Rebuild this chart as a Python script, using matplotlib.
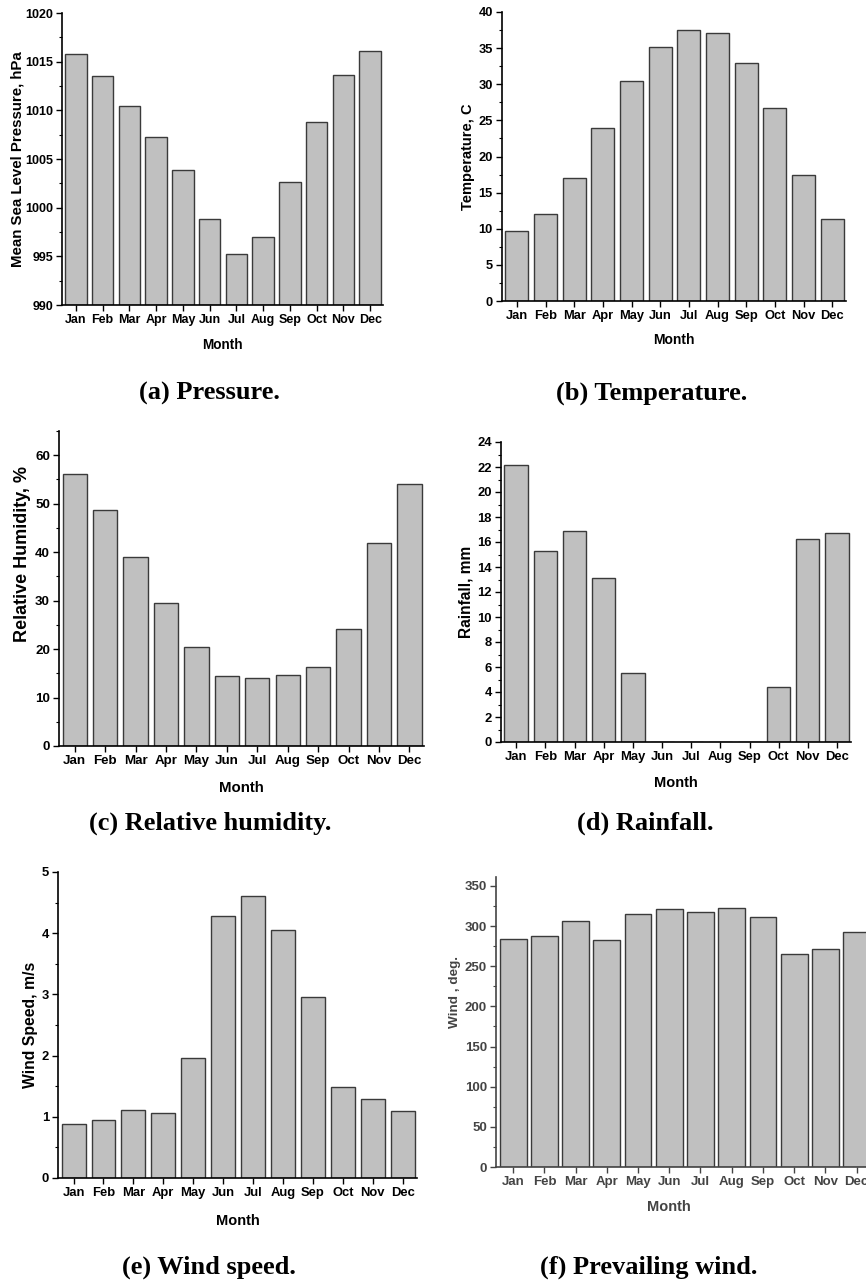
import numpy as np
import matplotlib
matplotlib.use("Agg")
import matplotlib.pyplot as plt
from matplotlib.ticker import MultipleLocator

# monthly climate data
months = ["Jan", "Feb", "Mar", "Apr", "May", "Jun", "Jul", "Aug", "Sep", "Oct", "Nov", "Dec"]
pressure = [1015.8, 1013.5, 1010.4, 1007.25, 1003.9, 998.8, 995.25, 996.95, 1002.65, 1008.8, 1013.6, 1016.1]
temperature = [9.7, 12.05, 17.05, 23.95, 30.4, 35.2, 37.55, 37.1, 33.0, 26.7, 17.5, 11.4]
humidity = [56.15, 48.65, 38.95, 29.45, 20.5, 14.5, 14.1, 14.6, 16.25, 24.15, 41.85, 54.05]
rainfall = [22.2, 15.3, 16.85, 13.15, 5.5, 0, 0, 0, 0, 4.4, 16.25, 16.75]
wind_speed = [0.875, 0.955, 1.11, 1.06, 1.96, 4.28, 4.605, 4.045, 2.965, 1.485, 1.29, 1.09]
wind_dir = [284, 288, 306, 283, 314.5, 321, 317.5, 323, 311, 265, 271.5, 292]

W, H = 866, 1280
plt.rcParams['font.family'] = ['Liberation Sans', 'DejaVu Sans']
plt.rcParams['font.weight'] = 'bold'
fig = plt.figure(figsize=(W / 100, H / 100), dpi=100)

BAR = "#c0c0c0"
EDGE = "#3a3a3a"


def panel(x0, x1, top, bottom, vals, ylim, major, minor, ylabel, ylab_x, ylab_y,
          month_y, month_x=None, base=0, tick_fs=8.5, ylab_fs=10.5, month_fs=10,
          width=0.8, col="black", xlim=(-0.52, 11.48)):
    ax = fig.add_axes([x0 / W, 1 - bottom / H, (x1 - x0) / W, (bottom - top) / H])
    x = np.arange(len(months))
    v = np.array(vals, dtype=float)
    ax.bar(x, v - base, bottom=base, width=width, color=BAR, edgecolor=EDGE, linewidth=1.0)
    ax.set_xlim(*xlim)
    ax.set_ylim(*ylim)
    ax.yaxis.set_major_locator(MultipleLocator(major))
    ax.yaxis.set_minor_locator(MultipleLocator(minor))
    ax.set_xticks(x)
    ax.set_xticklabels(months)
    for s in ["top", "right"]:
        ax.spines[s].set_visible(False)
    for s in ["left", "bottom"]:
        ax.spines[s].set_linewidth(1.2)
        ax.spines[s].set_color(col)
    ax.tick_params(axis="both", which="major", direction="out", length=4, width=1,
                   labelsize=tick_fs, colors=col, pad=2.5)
    ax.tick_params(axis="y", which="minor", direction="out", length=2.5, width=0.8, colors=col)
    for t in ax.get_xticklabels() + ax.get_yticklabels():
        t.set_fontweight("bold")
    h = bottom - top
    w = x1 - x0
    ax.set_ylabel(ylabel, fontsize=ylab_fs, fontweight="bold", va="center", color=col)
    ax.yaxis.set_label_coords((ylab_x - x0) / w, (bottom - ylab_y) / h)
    ax.set_xlabel("Month", fontsize=month_fs, fontweight="bold", va="center", color=col)
    mx = (x0 + x1) / 2 if month_x is None else month_x
    ax.xaxis.set_label_coords((mx - x0) / w, -(month_y - bottom) / h)
    return ax


# (a) pressure
panel(62, 383, 13, 305, pressure, (990, 1020), 5, 2.5, "Mean Sea Level Pressure, hPa",
      18, 159, 345, base=990, tick_fs=9, ylab_fs=10.8, month_fs=9.8)
# (b) temperature
panel(502, 846, 12, 301, temperature, (0, 40), 5, 2.5, "Temperature, C",
      468, 157, 340, tick_fs=9.3, ylab_fs=10.5, month_fs=10)
# (c) relative humidity
panel(59, 424, 431, 746, humidity, (0, 65), 10, 5, "Relative Humidity, %",
      23, 554, 788, tick_fs=9.6, ylab_fs=13, month_fs=10.8)
# (d) rainfall
panel(501, 851, 442, 742, rainfall, (0, 24), 2, 1, "Rainfall, mm",
      466, 592, 783, tick_fs=9.4, ylab_fs=11.2, month_fs=10.5)
# (e) wind speed
panel(58, 417, 872, 1178, wind_speed, (0, 5), 1, 0.5, "Wind Speed, m/s",
      31, 1025, 1221, tick_fs=9.4, ylab_fs=11.3, month_fs=10.5)
# (f) prevailing wind direction (cut at the right edge in the source)
panel(496, 880, 877, 1167, wind_dir, (0, 361), 50, 25, "Wind , deg.",
      455, 992, 1207, month_x=669, tick_fs=9.5, ylab_fs=9.7, month_fs=10.5,
      width=0.86, col="#444444", xlim=(-0.55, 11.75))

# captions
cap = dict(fontsize=19, fontweight="bold", family=["Liberation Serif", "DejaVu Serif"],
           ha="center", va="center")
fig.text(209 / W, 1 - 393 / H, "(a) Pressure.", **cap)
fig.text(652 / W, 1 - 393 / H, "(b) Temperature.", **cap)
fig.text(210 / W, 1 - 823 / H, "(c) Relative humidity.", **cap)
fig.text(645 / W, 1 - 823 / H, "(d) Rainfall.", **cap)
fig.text(209 / W, 1 - 1267 / H, "(e) Wind speed.", **cap)
fig.text(649 / W, 1 - 1267 / H, "(f) Prevailing wind.", **cap)

fig.savefig("out.png", dpi=100)
